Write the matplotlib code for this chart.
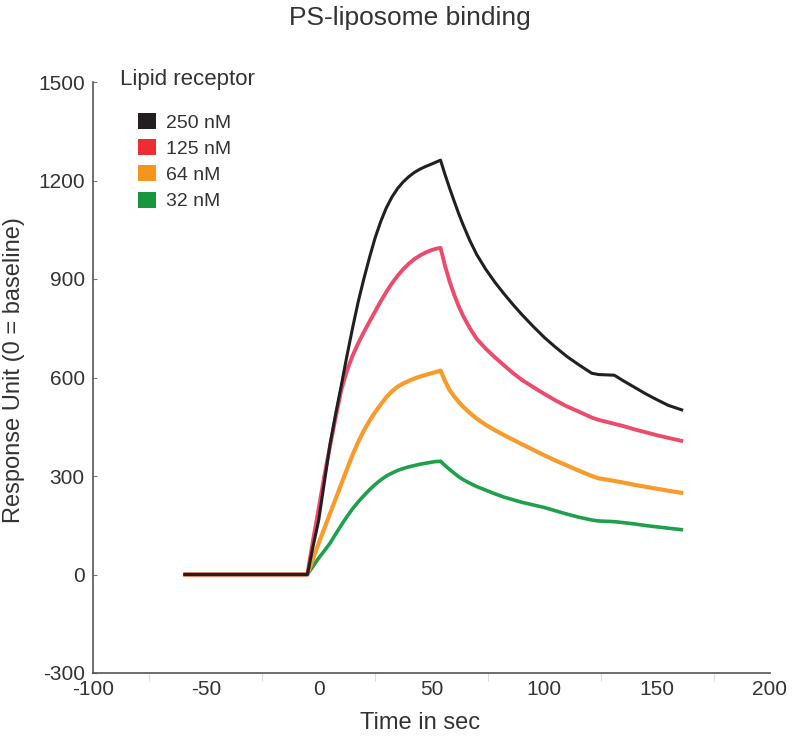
import matplotlib
matplotlib.use("Agg")
import matplotlib.pyplot as plt
from matplotlib.patches import Patch

plt.rcParams['font.family'] = ['Liberation Sans', 'DejaVu Sans']
plt.rcParams['axes.unicode_minus'] = False

# ---- data ----
time_s = [-60, -5, -2.5, 0, 2.5, 5, 7.5, 10, 12.5, 15, 17.5, 20, 22.5, 25, 27.5,
          30, 32.5, 35, 37.5, 40, 42.5, 45, 47.5, 50, 52, 54,
          56, 58, 60, 62, 64, 67, 70, 74, 78, 82, 86, 90, 95, 100, 105, 110,
          115, 121, 124, 131, 135, 140, 145, 150, 155, 161.5]

resp_250 = [0, 0, 85, 165, 280, 395, 488, 575, 665, 750, 830, 900, 965, 1025,
            1075, 1117, 1150, 1176, 1196, 1212, 1225, 1235, 1243, 1250, 1256, 1262,
            1218, 1177, 1138, 1100, 1065, 1017, 975, 930, 891, 856, 823, 792,
            756, 722, 692, 664, 640, 613, 609, 607, 590, 570, 550, 532, 515, 500]
resp_125 = [0, 0, 105, 200, 300, 390, 478, 562, 620, 666, 704, 738, 770, 801,
            832, 861, 887, 910, 930, 947, 961, 972, 981, 988, 992, 995,
            940, 893, 853, 818, 788, 750, 718, 688, 662, 638, 614, 593,
            571, 550, 530, 512, 497, 478, 471, 459, 452, 442, 433, 424, 416, 406]
resp_64 = [0, 0, 48, 95, 140, 185, 230, 275, 320, 364, 403, 438, 468, 494,
           518, 540, 558, 572, 582, 590, 597, 603, 608, 613, 617, 621,
           589, 562, 543, 526, 511, 492, 475, 456, 440, 425, 411, 397,
           380, 363, 347, 332, 317, 300, 293, 285, 280, 273, 267, 261, 255, 248]
resp_32 = [0, 0, 25, 50, 72, 95, 123, 150, 176, 200, 221, 240, 258, 274,
           288, 300, 309, 317, 323, 328, 332, 336, 339, 342, 344, 345,
           332, 320, 309, 298, 289, 278, 268, 257, 246, 236, 228, 220,
           212, 204, 194, 184, 175, 166, 163, 161, 158, 154, 149, 145, 141, 136]

series_labels = ["250 nM", "125 nM", "64 nM", "32 nM"]
line_colors = ["#231f20", "#ec4b6c", "#f99b2a", "#1ea04c"]
legend_colors = ["#231f20", "#ee2d32", "#f7941d", "#17953f"]
line_widths = [2.2, 2.8, 3.0, 2.6]

x_ticks = [-100, -50, 0, 50, 100, 150, 200]
x_minor = [-75, -25, 25, 75, 125, 175]
y_ticks = [-300, 0, 300, 600, 900, 1200, 1500]

# ---- figure ----
fig = plt.figure(figsize=(8.0, 7.41), dpi=100)
ax = fig.add_axes([93/800, 1 - 673/741, 677/800, (673 - 82)/741])

series = [resp_250, resp_125, resp_64, resp_32]
# draw lowest first so black ends on top
for vals, col, lw in list(zip(series, line_colors, line_widths))[::-1]:
    ax.plot(time_s, vals, color=col, lw=lw, solid_joinstyle='round',
            solid_capstyle='butt')

ax.set_xlim(-100, 200)
ax.set_ylim(-300, 1500)
ax.set_xticks(x_ticks)
ax.set_xticks(x_minor, minor=True)
ax.set_yticks(y_ticks)

for side in ['top', 'right']:
    ax.spines[side].set_visible(False)
for side in ['left', 'bottom']:
    ax.spines[side].set_color('#555555')
    ax.spines[side].set_linewidth(1.2)

ax.tick_params(axis='x', which='major', length=0, pad=5, labelsize=15,
               labelcolor='#333333')
ax.tick_params(axis='x', which='minor', length=6, color='#dddddd', width=0.8,
               direction='out')
ax.tick_params(axis='y', which='major', length=3, direction='in', width=0.8,
               color='#777777', pad=6, labelsize=15, labelcolor='#333333')

ax.set_xlabel("Time in sec", fontsize=17, color='#333333')
ax.xaxis.label.set_va('center')
ax.xaxis.set_label_coords((420 - 93) / 677, (673 - 723) / 591)
ax.set_ylabel("Response Unit (0 = baseline)", fontsize=17, color='#333333')
ax.yaxis.label.set_va('center')
ax.yaxis.set_label_coords((14 - 93) / 677, (673 - 370) / 591)

fig.text(410/800, 1 - 18/741, "PS-liposome binding", ha='center', va='center',
         fontsize=19, color='#333333')

fig.text(120/800, 1 - 79/741, "Lipid receptor", ha='left', va='center',
         fontsize=16, color='#333333')
handles = [Patch(facecolor=c, edgecolor='none') for c in legend_colors]
ax.legend(handles, series_labels, loc='upper left',
          bbox_to_anchor=(138/800, 1 - 113/741), bbox_transform=fig.transFigure,
          frameon=False, fontsize=14, handlelength=0.9, handleheight=0.9,
          handletextpad=0.55, labelspacing=0.38, borderpad=0, borderaxespad=0,
          labelcolor='#333333')

fig.savefig("out.png", dpi=100)
